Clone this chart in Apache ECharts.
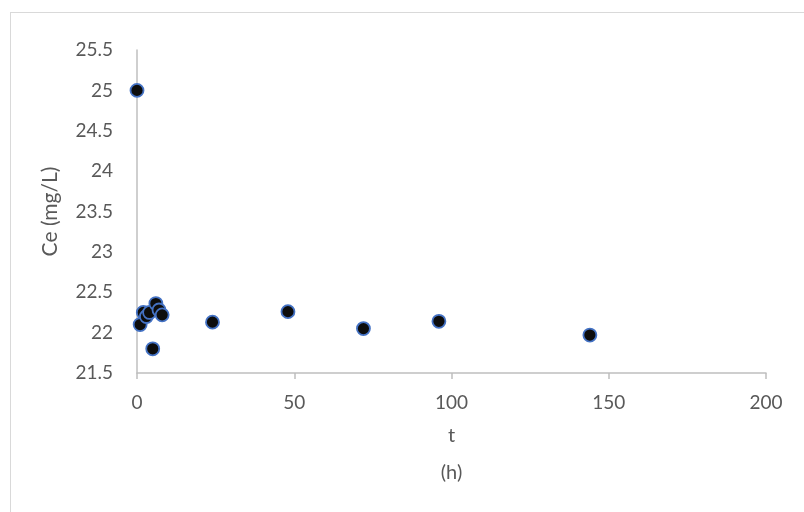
<!DOCTYPE html>
<html>
<head>
<meta charset="utf-8">
<script src="https://cdn.jsdelivr.net/npm/echarts@6/dist/echarts.min.js"></script>
<style>
html,body{margin:0;padding:0;background:#fff;}
#frame{position:absolute;left:10px;top:12px;width:820px;height:540px;border:1px solid #d9d9d9;box-sizing:border-box;}
#chart{position:absolute;left:0;top:0;width:804px;height:512px;}
</style>
</head>
<body>
<div id="frame"></div>
<div id="chart"></div>
<script>
const timeHours = [0, 1, 2, 3, 4, 5, 6, 7, 8, 24, 48, 72, 96, 144];
const ceValues = [25.0, 22.1, 22.25, 22.2, 22.25, 21.8, 22.36, 22.28, 22.22, 22.13, 22.26, 22.05, 22.14, 21.97];
const xTicks = [0, 50, 100, 150, 200];
const yTicks = [21.5, 22, 22.5, 23, 23.5, 24, 24.5, 25, 25.5];

const points = timeHours.map((t, i) => [t, ceValues[i]]);
const font = 'Lato';
const chart = echarts.init(document.getElementById('chart'), null, {renderer: 'canvas'});
chart.setOption({
  animation: false,
  backgroundColor: 'transparent',
  grid: {left: 137, right: 38, top: 50, bottom: 139, containLabel: false},
  xAxis: {
    type: 'value', min: xTicks[0], max: xTicks[xTicks.length - 1], interval: 50,
    name: 't\n(h)', nameLocation: 'middle', nameGap: 42,
    nameTextStyle: {fontFamily: font, fontSize: 20, color: '#595959', lineHeight: 37},
    axisLine: {show: true, lineStyle: {color: '#bfbfbf', width: 1.5}},
    axisTick: {show: true, length: 6, lineStyle: {color: '#bfbfbf', width: 1.5}},
    axisLabel: {fontFamily: font, fontSize: 19, color: '#595959', margin: 20},
    splitLine: {show: false}
  },
  yAxis: {
    type: 'value', min: yTicks[0], max: yTicks[yTicks.length - 1], interval: 0.5,
    name: 'Ce (mg/L)', nameLocation: 'middle', nameGap: 76, nameRotate: 90,
    nameTextStyle: {fontFamily: font, fontSize: 21, color: '#595959'},
    axisLine: {show: true, onZero: false, lineStyle: {color: '#bfbfbf', width: 1.5}},
    axisTick: {show: false},
    axisLabel: {fontFamily: font, fontSize: 19, color: '#595959', margin: 24},
    splitLine: {show: false}
  },
  series: [{
    type: 'scatter',
    data: points,
    symbol: 'circle',
    symbolSize: 13,
    itemStyle: {color: '#0d0d0d', borderColor: '#4472c4', borderWidth: 1.8, opacity: 1}
  }]
});
</script>
</body>
</html>
